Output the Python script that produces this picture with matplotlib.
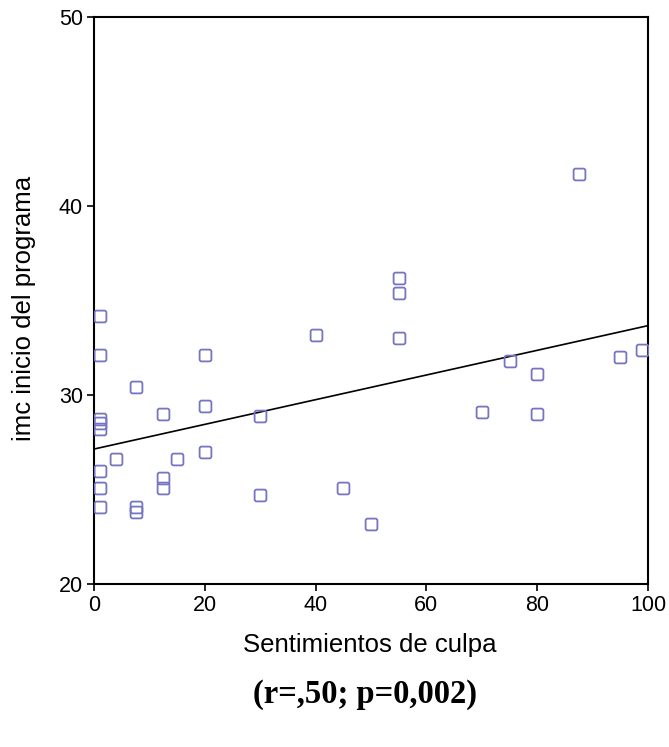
import matplotlib
matplotlib.use("Agg")
import matplotlib.pyplot as plt
from matplotlib.path import Path
import numpy as np

# Guilt feelings score vs. BMI at programme start
culpa = [1, 1, 7.5, 1, 1, 1, 12.5, 20, 20, 30,
         4, 15, 20, 1, 1, 12.5, 12.5, 1, 7.5, 7.5,
         30, 55, 55, 40, 55, 45, 50, 87.5, 75, 80,
         95, 99, 70, 80]
imc = [34.2, 32.1, 30.4, 28.75, 28.5, 28.2, 29.0, 32.1, 29.4, 28.9,
       26.6, 26.6, 27.0, 26.0, 25.1, 25.6, 25.1, 24.1, 24.1, 23.8,
       24.7, 36.2, 35.4, 33.2, 33.0, 25.1, 23.2, 41.7, 31.8, 31.1,
       32.0, 32.4, 29.1, 29.0]

# Fitted regression line
intercept = 27.14
slope = 0.0653

x_ticks = [0, 20, 40, 60, 80, 100]
y_ticks = [20, 30, 40, 50]

x_label = "Sentimientos de culpa"
y_label = "imc inicio del programa"
stats_text = "(r=,50; p=0,002)"

plt.rcParams["font.family"] = ["Liberation Sans", "DejaVu Sans"]


def rounded_square(r=0.35, n=1.0):
    verts, codes = [], []
    pts = [((n - r, -n), (n, -n), (n, -n + r)),
           ((n, n - r), (n, n), (n - r, n)),
           ((-n + r, n), (-n, n), (-n, n - r)),
           ((-n, -n + r), (-n, -n), (-n + r, -n))]
    verts.append((-n + r, -n))
    codes.append(Path.MOVETO)
    for a, c, b in pts:
        verts.append(a); codes.append(Path.LINETO)
        verts.append(c); codes.append(Path.CURVE3)
        verts.append(b); codes.append(Path.CURVE3)
    verts.append((-n + r, -n)); codes.append(Path.CLOSEPOLY)
    return Path(verts, codes)


fig = plt.figure(figsize=(6.69, 7.47), dpi=100)
ax = fig.add_axes([94 / 669, 1 - 584 / 747, (648 - 94) / 669, (584 - 17) / 747])

ax.plot(culpa, imc, linestyle="none", marker=rounded_square(),
        markersize=8.5, markerfacecolor="none", markeredgecolor="#7575C2",
        markeredgewidth=1.3, zorder=3)

xs = np.array([0, 100])
ax.plot(xs, intercept + slope * xs, color="black", linewidth=1.2, zorder=2)

ax.set_xlim(0, 100)
ax.set_ylim(20, 50)
ax.set_xticks(x_ticks)
ax.set_yticks(y_ticks)
ax.tick_params(axis="both", direction="out", length=5, width=1.2,
               labelsize=15.5, pad=3, top=False, right=False)
for s in ax.spines.values():
    s.set_linewidth(1.5)
    s.set_color("black")

fig.text(370 / 669, 1 - 645 / 747, x_label, ha="center", va="center",
         fontsize=18.5)
fig.text(24 / 669, 1 - 308 / 747, y_label, ha="center", va="center",
         rotation=90, fontsize=18.5)
fig.text(365 / 669, 1 - 695 / 747, stats_text, ha="center", va="center",
         fontsize=23.5, fontweight="bold", family=["Liberation Serif", "DejaVu Serif"])

fig.savefig("out.png", dpi=100)
